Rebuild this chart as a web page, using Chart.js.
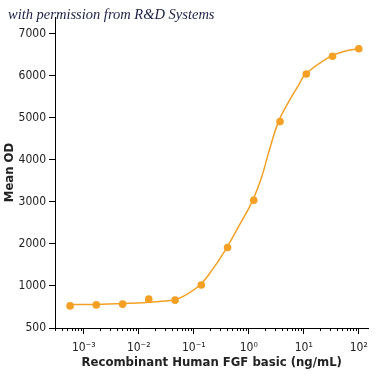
<!DOCTYPE html>
<html>
<head>
<meta charset="utf-8">
<script src="https://cdn.jsdelivr.net/npm/chart.js@4.4.1/dist/chart.umd.min.js"></script>
<style>
html, body { margin: 0; padding: 0; background: #fff; }
#wrap { position: relative; width: 375px; height: 375px; }
#note { position: absolute; left: 8px; top: 6px; font: italic 14.5px 'Liberation Serif', 'DejaVu Serif', serif; color: #1c1f45; white-space: nowrap; }
</style>
</head>
<body>
<div id="wrap">
  <canvas id="fgf_curve" width="375" height="375"></canvas>
  <div id="note">with permission from R&amp;D Systems</div>
</div>
<script>
// measured points - concentrations (ng/mL), 3-fold serial dilution
const concentration = [0.000564, 0.00169, 0.00508, 0.0152, 0.0457, 0.137, 0.412, 1.23, 3.70, 11.1, 33.3, 100];
const meanOD = [526, 550, 567, 687, 663, 1022, 1914, 3038, 4911, 6045, 6467, 6643];

// fitted curve
const fitConc = [0.000564, 0.00164, 0.00516, 0.0152, 0.0443, 0.072, 0.129, 0.218, 0.380, 0.660, 1.18, 1.74, 2.30, 3.48, 5.28, 8.00, 10.8, 31.1, 55.6, 100];
const fitOD = [557, 560, 581, 615, 670, 789, 1022, 1388, 1866, 2423, 3038, 3620, 4179, 4916, 5376, 5773, 6041, 6467, 6586, 6648];

const xTickValues = [0.001, 0.01, 0.1, 1, 10, 100];
const xTickLabels = ['10⁻³', '10⁻²', '10⁻¹', '10⁰', '10¹', '10²'];
const yTickValues = [0, 1000, 2000, 3000, 4000, 5000, 6000, 7000];
const yTickLabels = ['500', '1000', '2000', '3000', '4000', '5000', '6000', '7000'];

const narrow = "'Liberation Sans Narrow', 'DejaVu Sans Condensed', 'Liberation Sans', sans-serif";
const orange = '#f4a025';

// small minor ticks under the log axis
const minorTicks = {
    id: 'minorTicks',
    afterDraw(chart) {
        const x = chart.scales.x;
        const ctx = chart.ctx;
        const y0 = chart.chartArea.bottom;
        ctx.save();
        ctx.strokeStyle = '#000';
        ctx.lineWidth = 1;
        for (let e = -4; e <= 2; e++) {
            for (let m = 2; m <= 9; m++) {
                const v = m * Math.pow(10, e);
                if (v < x.min || v > x.max) continue;
                const px = Math.round(x.getPixelForValue(v)) + 0.5;
                ctx.beginPath();
                ctx.moveTo(px, y0);
                ctx.lineTo(px, y0 + 3);
                ctx.stroke();
            }
        }
        ctx.restore();
    }
};

const ctx_fgf = document.getElementById('fgf_curve').getContext('2d');

new Chart(ctx_fgf, {
    type: 'scatter',
    data: {
        datasets: [{
            label: 'Mean OD',
            data: concentration.map((c, i) => ({ x: c, y: meanOD[i] })),
            showLine: false,
            backgroundColor: orange,
            pointRadius: 3.8,
            pointBorderWidth: 0
        }, {
            label: 'Fit',
            data: fitConc.map((c, i) => ({ x: c, y: fitOD[i] })),
            showLine: true,
            borderColor: orange,
            borderWidth: 1.5,
            tension: 0.4,
            pointRadius: 0
        }]
    },
    options: {
        responsive: false,
        animation: false,
        devicePixelRatio: 1,
        layout: { padding: { top: 17, right: 6, left: 0, bottom: 5 } },
        plugins: {
            legend: { display: false },
            tooltip: { enabled: false }
        },
        scales: {
            x: {
                type: 'logarithmic',
                min: 0.00032,
                max: 150,
                border: { color: '#000', width: 1 },
                grid: { display: true, drawOnChartArea: false, color: '#000', tickLength: 6 },
                afterBuildTicks: s => { s.ticks = xTickValues.map(v => ({ value: v })); },
                afterFit: s => { s.height = 42; },
                ticks: {
                    autoSkip: false,
                    maxRotation: 0,
                    padding: 7,
                    color: '#222',
                    font: { family: narrow, size: 12 },
                    callback: (v, i) => xTickLabels[i]
                },
                title: {
                    display: true,
                    text: 'Recombinant Human FGF basic (ng/mL)',
                    color: '#222',
                    font: { family: narrow, size: 13, weight: 'bold' },
                    padding: { top: 1, bottom: 0 }
                }
            },
            y: {
                min: 0,
                max: 7400,
                border: { color: '#000', width: 1 },
                grid: { display: true, drawOnChartArea: false, color: '#000', tickLength: 6 },
                afterBuildTicks: s => { s.ticks = yTickValues.map(v => ({ value: v })); },
                afterFit: s => { s.width = 55; },
                ticks: {
                    padding: 3,
                    color: '#222',
                    font: { family: narrow, size: 12 },
                    callback: (v, i) => yTickLabels[i]
                },
                title: {
                    display: true,
                    text: 'Mean OD',
                    color: '#222',
                    font: { family: narrow, size: 13, weight: 'bold' },
                    padding: { top: 2, bottom: 0 }
                }
            }
        }
    },
    plugins: [minorTicks]
});
</script>
</body>
</html>
